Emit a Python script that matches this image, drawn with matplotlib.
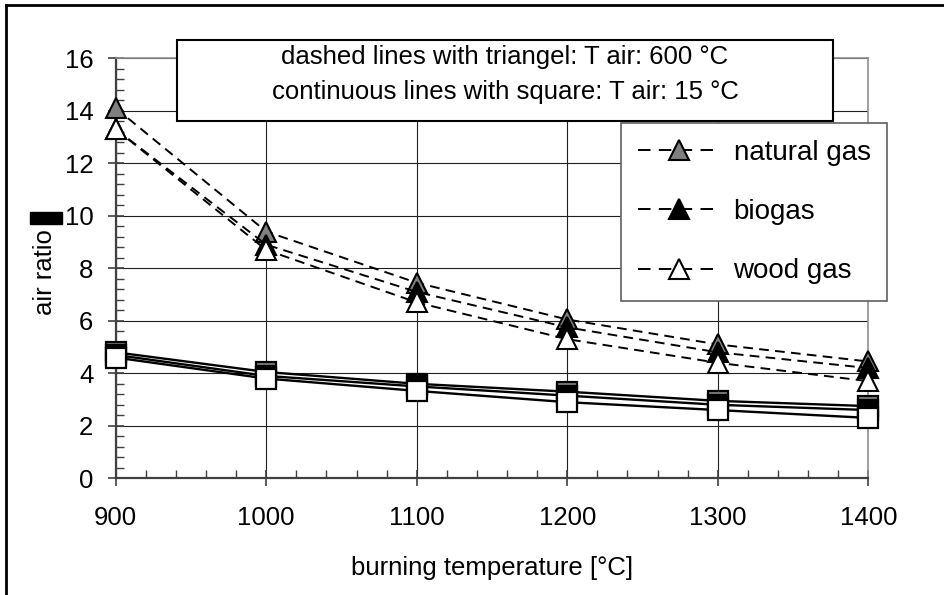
import matplotlib
matplotlib.use("Agg")
import matplotlib.pyplot as plt
from matplotlib.lines import Line2D
from matplotlib.patches import Rectangle

plt.rcParams["font.family"] = ["Liberation Sans", "DejaVu Sans"]
plt.rcParams["lines.scale_dashes"] = False

# burning temperature [°C]
temps = [900, 1000, 1100, 1200, 1300, 1400]

# air ratio, preheated air (T air 600 °C) -> dashed lines with triangles
natural_600 = [14.1, 9.4, 7.45, 6.05, 5.1, 4.45]
biogas_600 = [13.3, 8.9, 7.1, 5.75, 4.8, 4.2]
wood_600 = [13.3, 8.7, 6.7, 5.3, 4.4, 3.7]

# air ratio, cold air (T air 15 °C) -> continuous lines with squares
natural_15 = [4.8, 4.05, 3.6, 3.3, 2.95, 2.75]
biogas_15 = [4.7, 3.9, 3.5, 3.15, 2.8, 2.6]
wood_15 = [4.6, 3.8, 3.33, 2.9, 2.6, 2.3]

gas_names = ["natural gas", "biogas", "wood gas"]
gas_colors = ["#808080", "black", "white"]

W, H = 944, 595
fig = plt.figure(figsize=(W / 100, H / 100), dpi=100)
ax = fig.add_axes([115.7 / W, 1 - 478.3 / H, (868.3 - 115.7) / W, (478.3 - 58.3) / H])

dash = (0, (7, 4.5))
for vals, col in zip([natural_15, biogas_15, wood_15], gas_colors):
    ax.plot(temps, vals, color="black", lw=1.7, marker="s", ms=14,
            mfc=col, mec="black", mew=1.6, zorder=3, clip_on=False)
for vals, col in zip([natural_600, biogas_600, wood_600], gas_colors):
    ax.plot(temps, vals, color="black", lw=1.4, ls=dash, marker="^", ms=14,
            mfc=col, mec="black", mew=1.5, zorder=4, clip_on=False)

ax.set_xlim(900, 1400)
ax.set_ylim(0, 16)
ax.set_xticks(range(900, 1401, 100))
ax.set_yticks(range(0, 17, 2))
ax.set_xticks(range(900, 1401, 20), minor=True)
ax.set_yticks([i * 0.4 for i in range(41)], minor=True)
ax.grid(True, which="major", color="#202020", lw=0.8)
ax.set_axisbelow(True)

for s in ["left", "bottom"]:
    ax.spines[s].set_color("#404040")
    ax.spines[s].set_linewidth(1.6)
for s in ["top", "right"]:
    ax.spines[s].set_color("#909090")
    ax.spines[s].set_linewidth(1.2)

ax.tick_params(which="major", direction="inout", length=12, width=1.2,
               color="#404040", labelsize=18.5)
ax.tick_params(which="minor", direction="in", length=6, width=1.0, color="#404040")
ax.tick_params(axis="x", which="major", pad=14)
ax.tick_params(axis="y", which="major", pad=10)

ax.set_xlabel("burning temperature [°C]", fontsize=18.5)
ax.xaxis.set_label_coords(0.5, -0.185)
ax.set_ylabel("air ratio", fontsize=18.5)
ax.yaxis.set_label_coords(-0.078, 0.49)

# black block next to the y label (as in the original export)
fig.patches.append(Rectangle((30 / W, 1 - 224 / H), 32 / W, 12 / H,
                             transform=fig.transFigure, color="black"))

# info box
box_l, box_t, box_r, box_b = 177, 40, 833, 121
fig.patches.append(Rectangle((box_l / W, 1 - box_b / H), (box_r - box_l) / W,
                             (box_b - box_t) / H, transform=fig.transFigure,
                             facecolor="white", edgecolor="black", lw=1.5, zorder=5))
fig.text((box_l + box_r) / 2 / W, 1 - 57 / H,
         "dashed lines with triangel: T air: 600 °C", ha="center", va="center",
         fontsize=18.5, zorder=6)
fig.text((box_l + box_r) / 2 / W, 1 - 92 / H,
         "continuous lines with square: T air: 15 °C", ha="center", va="center",
         fontsize=18.5, zorder=6)

handles = [Line2D([], [], color="black", lw=1.4, ls=(0, (9, 6)), marker="^",
                  ms=14, mfc=c, mec="black", mew=1.5) for c in gas_colors]
leg = ax.legend(handles, gas_names, loc="upper left",
                bbox_to_anchor=(621 / W, 1 - 123 / H), bbox_transform=fig.transFigure,
                fontsize=20, frameon=True, fancybox=False, framealpha=1,
                edgecolor="#606060", handlelength=3.0, labelspacing=1.2,
                borderpad=0.6, handletextpad=0.45, borderaxespad=0)
leg.get_frame().set_linewidth(1.2)
leg.set_zorder(10)

# outer frame
fig.add_artist(Line2D([6 / W, 6 / W], [0, 1 - 5 / H], color="black", lw=2,
                      transform=fig.transFigure))
fig.add_artist(Line2D([6 / W, 1], [1 - 5 / H, 1 - 5 / H], color="black", lw=2,
                      transform=fig.transFigure))

fig.savefig("out.png", dpi=100)
